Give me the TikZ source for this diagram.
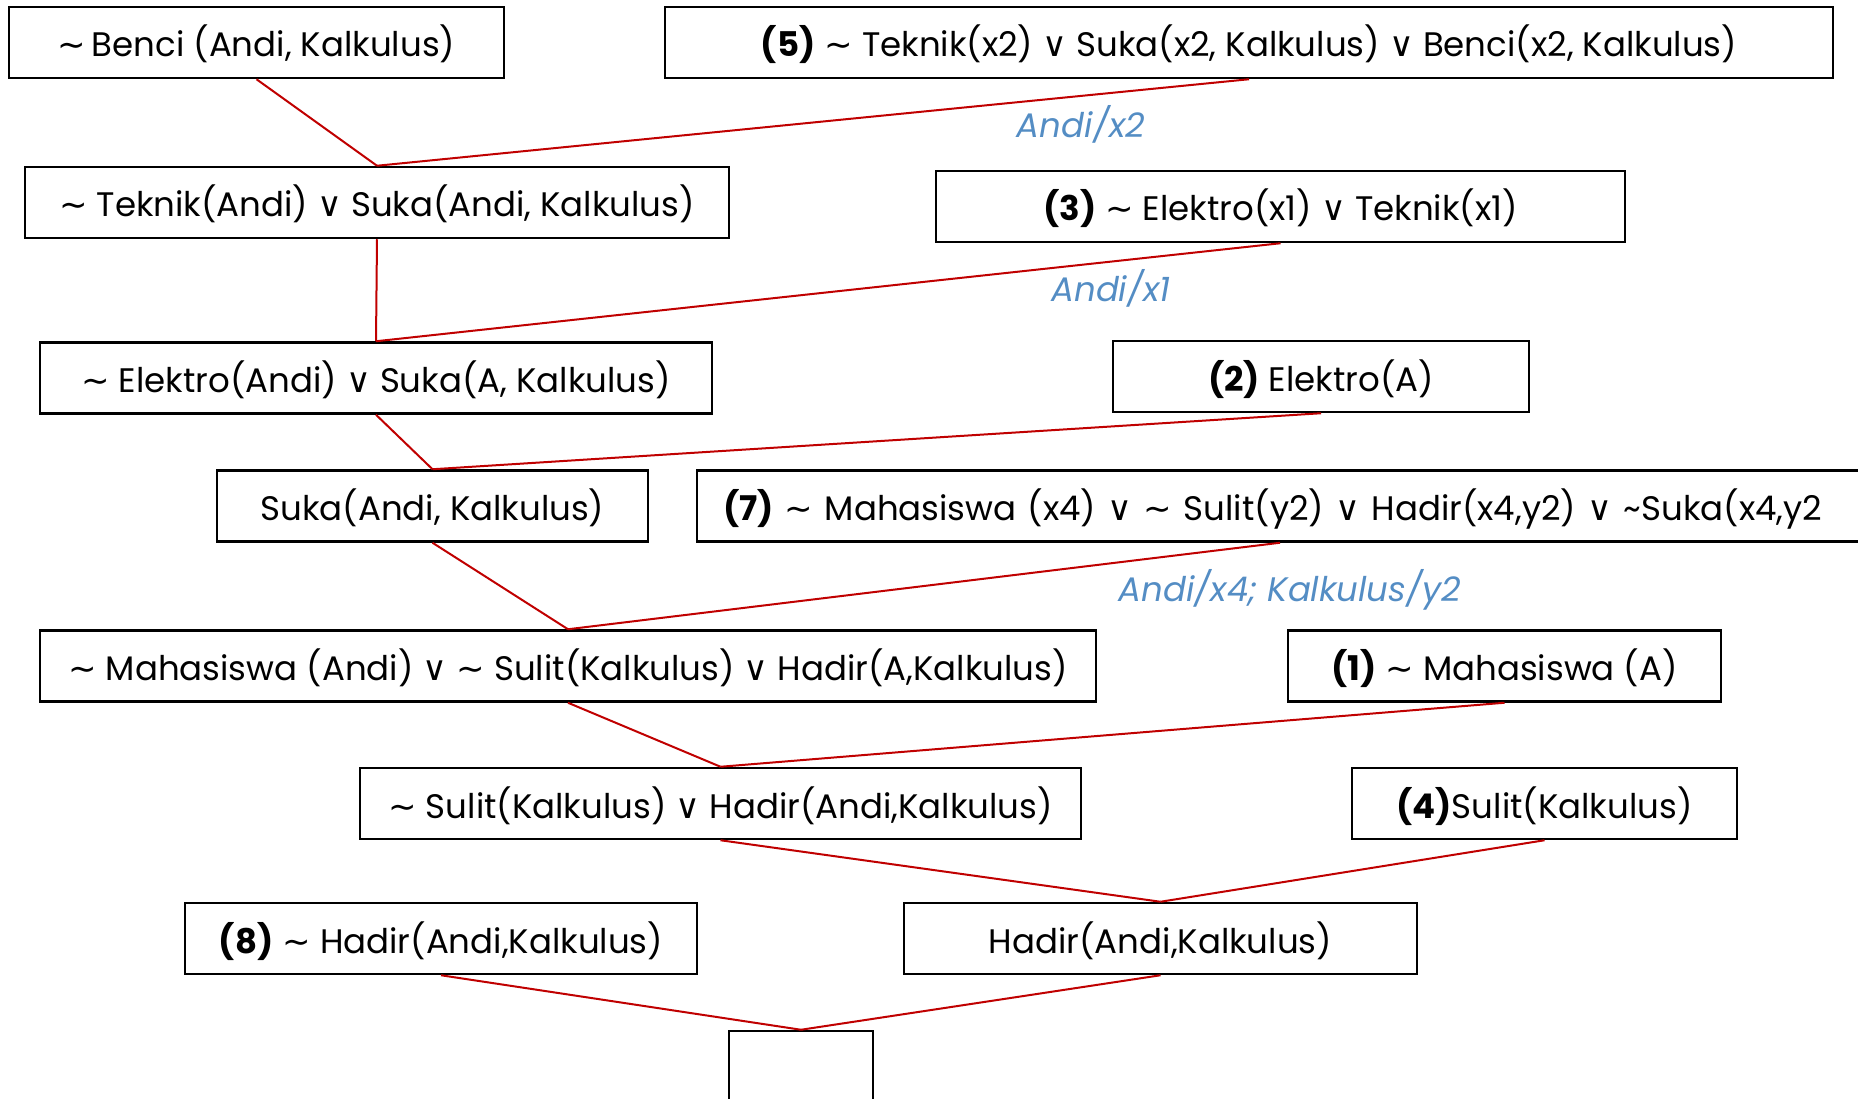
\documentclass[tikz,border=0pt]{standalone}
\usepackage{fontspec}
\setmainfont{Poppins}
\newfontfamily\symfont{DejaVu Sans}
\definecolor{linkred}{RGB}{192,0,0}
\definecolor{subblue}{RGB}{84,141,196}
\newcommand{\negt}{{\symfont ∼}}
\newcommand{\orsym}{{\symfont ∨}}
\begin{document}
\begin{tikzpicture}[x=1pt,y=-1pt,
  clause/.style={draw=black,line width=2.5pt,inner sep=0pt,minimum height=71pt,
    text height=36pt,text depth=7pt,
    font=\fontsize{34}{40}\selectfont,text=black},
  link/.style={draw=linkred,line width=2pt},
  subst/.style={text=subblue,font=\fontsize{34}{40}\selectfont\itshape,inner sep=0pt}]
\useasboundingbox (0,0) rectangle (1858,1099);
\clip (0,0) rectangle (1858,1099);

% clauses
\node[clause,minimum width=495pt]  (benci) at (256.5,42.5) {\negt\,Benci (Andi, Kalkulus)};
\node[clause,minimum width=1168pt] (c5)    at (1249,42.5)  {\textbf{(5)} \negt{} Teknik(x2) \orsym{} Suka(x2, Kalkulus) \orsym{} Benci(x2, Kalkulus)};
\node[clause,minimum width=704pt]  (tek)   at (377,202.5)  {\negt{} Teknik(Andi) \orsym{} Suka(Andi, Kalkulus)};
\node[clause,minimum width=689pt]  (c3)    at (1280.5,206.5) {\textbf{(3)} \negt{} Elektro(x1) \orsym{} Teknik(x1)};
\node[clause,minimum width=672pt]  (elk)   at (376,378)    {\negt{} Elektro(Andi) \orsym{} Suka(A, Kalkulus)};
\node[clause,minimum width=416pt]  (c2)    at (1321,376.5) {\textbf{(2)} Elektro(A)};
\node[clause,minimum width=431pt]  (suka)  at (432.5,506)  {Suka(Andi, Kalkulus)};
\node[clause,minimum width=1166pt,text width=1114pt,align=left] (c7) at (1280,506)
  {\textbf{(7)} \negt{} Mahasiswa (x4) \orsym{} \negt{} Sulit(y2) \orsym{} Hadir(x4,y2) \orsym{} \textasciitilde Suka(x4,y2};
\node[clause,minimum width=1056pt] (mhs)   at (568,666)    {\negt{} Mahasiswa (Andi) \orsym{} \negt{} Sulit(Kalkulus) \orsym{} Hadir(A,Kalkulus)};
\node[clause,minimum width=433pt]  (c1)    at (1504.5,666) {\textbf{(1)} \negt{} Mahasiswa (A)};
\node[clause,minimum width=721pt]  (sulit) at (720.5,803.5) {\negt{} Sulit(Kalkulus) \orsym{} Hadir(Andi,Kalkulus)};
\node[clause,minimum width=385pt]  (c4)    at (1544.5,803.5) {\textbf{(4)}Sulit(Kalkulus)};
\node[clause,minimum width=512pt]  (c8)    at (441,938.5)  {\textbf{(8)} \negt{} Hadir(Andi,Kalkulus)};
\node[clause,minimum width=513pt]  (hadir) at (1160.5,938.5) {Hadir(Andi,Kalkulus)};
\node[clause,minimum width=144pt,minimum height=100pt,text height=0pt,text depth=0pt] (empty) at (801,1081) {};

% resolution links
\draw[link] (benci.south) -- (tek.north);
\draw[link] (c5.south) -- (tek.north);
\draw[link] (tek.south) -- (elk.north);
\draw[link] (c3.south) -- (elk.north);
\draw[link] (elk.south) -- (suka.north);
\draw[link] (c2.south) -- (suka.north);
\draw[link] (suka.south) -- (mhs.north);
\draw[link] (c7.south) -- (mhs.north);
\draw[link] (mhs.south) -- (sulit.north);
\draw[link] (c1.south) -- (sulit.north);
\draw[link] (sulit.south) -- (hadir.north);
\draw[link] (c4.south) -- (hadir.north);
\draw[link] (c8.south) -- (empty.north);
\draw[link] (hadir.south) -- (empty.north);

% substitutions
\node[subst] (s2) at (1081,124) {Andi/x2};
\node[subst] (s1) at (1111,288) {Andi/x1};
\node[subst] (s4) at (1290,590) {Andi/x4; Kalkulus/y2};
\end{tikzpicture}
\end{document}
